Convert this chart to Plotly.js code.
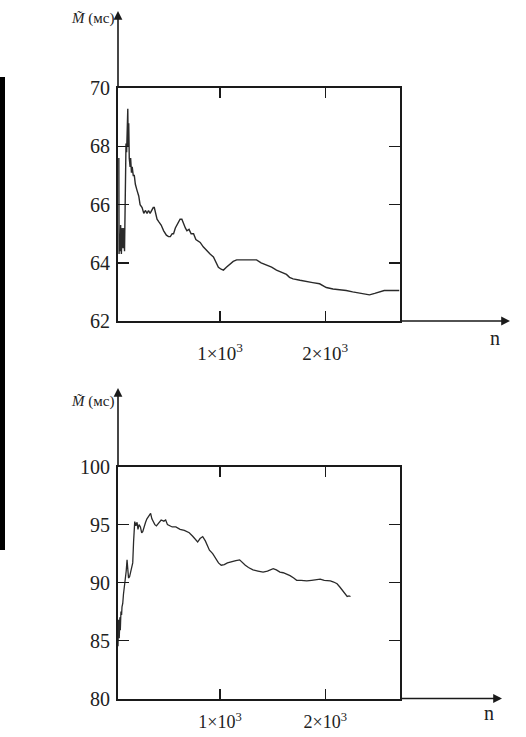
<!DOCTYPE html>
<html>
<head>
<meta charset="utf-8">
<script src="https://cdn.plot.ly/plotly-3.0.1.min.js"></script>
<style>html,body{margin:0;padding:0;background:#fff;}#chart{width:526px;height:737px;}</style>
</head>
<body>
<div id="chart"></div>
<script>
// Top chart: sample mean M (ms) vs n
const n1 = [38,40,45,50,55,62,70,78,85,92,100,106,112,118,123,127,132,137,145,150,158,165,175,185,195,210,227,240,259,275,290,306,320,335,353,365,375,385,401,420,440,464,490,510,527,545,558,575,590,605,620,637,655,670,685,705,725,748,770,790,811,840,874,905,937,960,984,1010,1032,1060,1095,1125,1158,1200,1252,1300,1347,1390,1442,1490,1536,1580,1631,1660,1694,1760,1820,1880,1946,2010,2073,2140,2199,2260,2325,2380,2420,2470,2514,2560,2609,2660,2703];
const m1 = [67.6,64.3,65.0,64.4,65.3,64.3,65.2,64.5,65.2,64.4,66.0,68.1,67.8,68.3,69.3,68.0,68.8,67.6,67.3,67.6,67.1,67.3,67.0,67.0,66.7,66.5,66.3,66.0,65.9,65.7,65.8,65.7,65.8,65.7,65.8,65.9,65.9,65.7,65.5,65.4,65.3,65.1,64.95,64.9,64.9,65.0,65.0,65.2,65.3,65.4,65.5,65.5,65.3,65.2,65.1,65.15,65.0,65.0,64.8,64.75,64.7,64.55,64.4,64.3,64.2,64.0,63.85,63.78,63.75,63.85,63.95,64.05,64.1,64.1,64.12,64.1,64.1,64.0,63.92,63.85,63.75,63.68,63.6,63.5,63.45,63.4,63.35,63.32,63.28,63.15,63.1,63.08,63.05,63.0,62.95,62.92,62.9,62.95,63.0,63.05,63.05,63.05,63.05];

// Bottom chart
const n2 = [19,25,30,36,42,48,52,58,64,68,75,82,90,100,108,116,122,130,140,150,160,170,178,185,189,200,211,220,230,243,255,265,278,292,305,320,340,352,365,380,395,410,425,440,466,483,500,520,545,580,620,660,707,740,770,787,810,835,860,880,899,930,960,985,1011,1040,1070,1100,1150,1186,1215,1240,1270,1313,1360,1409,1450,1480,1505,1535,1569,1600,1630,1665,1700,1728,1770,1824,1870,1910,1952,1990,2048,2080,2112,2140,2160,2185,2208,2225,2240];
const m2 = [83.9,86.3,84.5,86.8,85.2,87.0,85.9,87.5,87.2,87.9,88.2,89.0,89.6,90.2,91.0,91.96,90.8,90.4,90.5,91.0,91.4,91.7,93.5,95.0,95.26,94.9,95.2,94.6,95.0,94.8,94.3,94.4,94.9,95.2,95.5,95.7,95.98,95.5,95.2,95.0,94.9,95.1,95.3,95.4,95.3,95.4,95.0,94.9,94.8,94.8,94.6,94.5,94.3,94.0,93.7,93.5,93.8,93.97,93.6,93.2,92.8,92.5,92.0,91.7,91.5,91.55,91.7,91.8,91.9,91.96,91.7,91.5,91.3,91.1,91.0,90.9,91.0,91.1,91.2,91.1,90.9,90.85,90.75,90.6,90.4,90.2,90.2,90.15,90.2,90.25,90.3,90.2,90.15,90.05,89.9,89.6,89.35,89.05,88.8,88.85,88.8];

const yTicks1 = [62,64,66,68,70];
const yTicks2 = [80,85,90,95,100];
const xTickVals = [1000,2000];
const xTickText = ['1×10<sup>3</sup>','2×10<sup>3</sup>'];
const yLabel = '<i>M̃</i> (мс)';
const xLabel = 'n';

const W = 526, H = 737;
const px = v => v / W;
const py = v => 1 - v / H;
const serif = 'Liberation Serif, Times New Roman, serif';
const lineCol = '#1a1a1a';

const xBase = {
  range: [30, 2710], tickvals: xTickVals, ticktext: xTickText,
  ticks: 'inside', ticklen: 10, tickwidth: 1.5, tickcolor: lineCol,
  showline: true, linewidth: 2, linecolor: lineCol, mirror: 'ticks',
  showgrid: false, zeroline: false,
  tickfont: {family: serif, size: 19, color: '#222'}, fixedrange: true
};
const yBase = {
  ticks: 'inside', ticklen: 11, tickwidth: 1.5, tickcolor: lineCol,
  showline: true, linewidth: 2, linecolor: lineCol, mirror: 'ticks',
  showgrid: false, zeroline: false, ticklabelstandoff: 2,
  tickfont: {family: serif, size: 20, color: '#222'}, fixedrange: true
};

const traces = [
  {x: n1, y: m1, xaxis: 'x', yaxis: 'y', mode: 'lines', line: {color: '#2a2a2a', width: 1.4}, hoverinfo: 'skip'},
  {x: n2, y: m2, xaxis: 'x2', yaxis: 'y2', mode: 'lines', line: {color: '#2a2a2a', width: 1.3}, hoverinfo: 'skip'}
];

function arrow(xTip, yTip, ax, ay) {
  return {xref: 'paper', yref: 'paper', x: px(xTip), y: py(yTip), ax: ax, ay: ay,
    text: '', showarrow: true, arrowhead: 2, arrowsize: 1.1, arrowwidth: 1.6, arrowcolor: lineCol};
}
function label(txt, xLeft, yMid, size) {
  return {xref: 'paper', yref: 'paper', x: px(xLeft), y: py(yMid), xanchor: 'left', yanchor: 'middle',
    text: txt, showarrow: false, font: {family: serif, size: size, color: '#222'}};
}

const layout = {
  width: W, height: H, margin: {l: 0, r: 0, t: 0, b: 0},
  paper_bgcolor: '#fff', plot_bgcolor: '#fff', showlegend: false,
  xaxis: Object.assign({}, xBase, {domain: [px(118), px(400)], anchor: 'y', ticklabelstandoff: 14}),
  yaxis: Object.assign({}, yBase, {domain: [py(321), py(88.3)], range: [62, 70], tickvals: yTicks1, anchor: 'x'}),
  xaxis2: Object.assign({}, xBase, {domain: [px(118), px(400)], anchor: 'y2', ticklabelstandoff: 6,
    tickfont: {family: serif, size: 18, color: '#222'}}),
  yaxis2: Object.assign({}, yBase, {domain: [py(698.5), py(466.7)], range: [80, 100], tickvals: yTicks2, anchor: 'x2'}),
  annotations: [
    arrow(118, 11, 0, 78),
    arrow(510, 321, -110, 0),
    arrow(118, 388, 0, 79),
    arrow(502, 698.5, -102, 0),
    label(yLabel, 69, 18, 15),
    label(yLabel, 69, 401, 15),
    label(xLabel, 488, 338, 20),
    label(xLabel, 482, 713, 20)
  ],
  shapes: [
    {type: 'rect', xref: 'paper', yref: 'paper', x0: 0, x1: px(5), y0: py(550), y1: py(77), fillcolor: '#000', line: {width: 0}}
  ]
};

Plotly.newPlot('chart', traces, layout, {staticPlot: true, displayModeBar: false});
</script>
</body>
</html>
